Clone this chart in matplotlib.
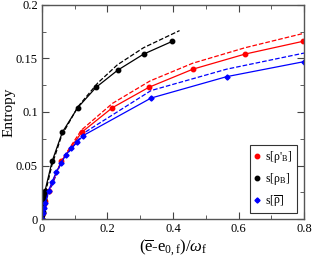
import matplotlib
matplotlib.use("Agg")
import matplotlib.pyplot as plt
from matplotlib.ticker import MultipleLocator, FormatStrFormatter

plt.rcParams['font.family'] = ['Liberation Serif', 'DejaVu Serif']
plt.rcParams['mathtext.fontset'] = 'custom'
plt.rcParams['mathtext.rm'] = 'Liberation Serif'
plt.rcParams['mathtext.it'] = 'Liberation Serif:italic'

# s[rho_B]  (black)
xb = [0, 0.001, 0.002, 0.003, 0.004, 0.005, 0.006, 0.007, 0.009, 0.031, 0.062, 0.109, 0.165, 0.231, 0.310, 0.398]
yb = [0, 0.004, 0.007, 0.010, 0.013, 0.016, 0.019, 0.022, 0.026, 0.054, 0.081, 0.104, 0.123, 0.139, 0.154, 0.166]
xb_d = [0, 0.005, 0.010, 0.030, 0.060, 0.110, 0.170, 0.230, 0.310, 0.420]
yb_d = [0, 0.015, 0.024, 0.050, 0.078, 0.105, 0.127, 0.144, 0.160, 0.176]

# s[rho'_B]  (red)
xr = [0, 0.002, 0.004, 0.007, 0.010, 0.020, 0.059, 0.121, 0.215, 0.326, 0.461, 0.619, 0.797]
yr = [0, 0.006, 0.010, 0.014, 0.017, 0.026, 0.054, 0.081, 0.104, 0.123, 0.140, 0.154, 0.166]
xr_d = [0, 0.010, 0.060, 0.120, 0.215, 0.330, 0.460, 0.620, 0.800]
yr_d = [0, 0.017, 0.055, 0.083, 0.108, 0.129, 0.1455, 0.160, 0.1735]

# s[rho-bar]  (blue)
xs = [0, 0.002, 0.005, 0.010, 0.020, 0.031, 0.044, 0.058, 0.073, 0.090, 0.108, 0.126, 0.333, 0.564, 0.800]
ys = [0, 0.006, 0.010, 0.015, 0.026, 0.035, 0.044, 0.052, 0.060, 0.066, 0.072, 0.078, 0.113, 0.133, 0.147]
xs_d = [0, 0.010, 0.060, 0.126, 0.333, 0.564, 0.800]
ys_d = [0, 0.016, 0.054, 0.080, 0.120, 0.140, 0.155]

fig = plt.figure(figsize=(3.12, 2.58), dpi=100)
ax = fig.add_axes([0.1346, 0.151, 0.8398, 0.830])

lw = 0.9
ax.plot(xr_d, yr_d, '--', color='red', lw=lw)
ax.plot(xb_d, yb_d, '--', color='black', lw=lw)
ax.plot(xs_d, ys_d, '--', color='blue', lw=lw)
ax.plot(xr, yr, '-', color='red', lw=lw, marker='o', ms=3.2, label="s[ρ'$_{\\rm B}$]")
ax.plot(xb, yb, '-', color='black', lw=lw, marker='o', ms=3.2, label="s[ρ$_{\\rm B}$]")
ax.plot(xs, ys, '-', color='blue', lw=lw, marker='D', ms=2.6, label="s[$\\overline{\\rm ρ}$]")

ax.set_xlim(0, 0.8)
ax.set_ylim(0, 0.2)
ax.xaxis.set_major_locator(MultipleLocator(0.2))
ax.xaxis.set_minor_locator(MultipleLocator(0.1))
ax.yaxis.set_major_locator(MultipleLocator(0.05))
ax.yaxis.set_minor_locator(MultipleLocator(0.025))
ax.xaxis.set_major_formatter(FormatStrFormatter('%g'))
ax.yaxis.set_major_formatter(FormatStrFormatter('%g'))
ax.tick_params(which='both', direction='in', top=True, right=True, labelsize=9,
               color='#444444', pad=3)
ax.tick_params(which='major', length=5)
ax.tick_params(which='minor', length=3)
for s in ax.spines.values():
    s.set_color('#555555')
    s.set_linewidth(1.0)

ax.set_ylabel('Entropy', fontsize=11)
ax.yaxis.set_label_coords(-0.1, 0.5)
ax.set_xlabel('$(\\overline{\\rm e}$-e$_{\\rm 0,f})/\\omega_{\\rm f}$', fontsize=12, labelpad=1)

leg = ax.legend(loc='lower right', fontsize=8.5, handlelength=0.5, handletextpad=0.5,
                borderpad=0.35, labelspacing=0.5, borderaxespad=0, fancybox=False,
                frameon=True, bbox_to_anchor=(0.973, 0.028))
leg.get_frame().set_edgecolor('black')
leg.get_frame().set_linewidth(0.8)
for h in leg.get_lines():
    h.set_linestyle('None')

fig.savefig('out.png', dpi=100)
